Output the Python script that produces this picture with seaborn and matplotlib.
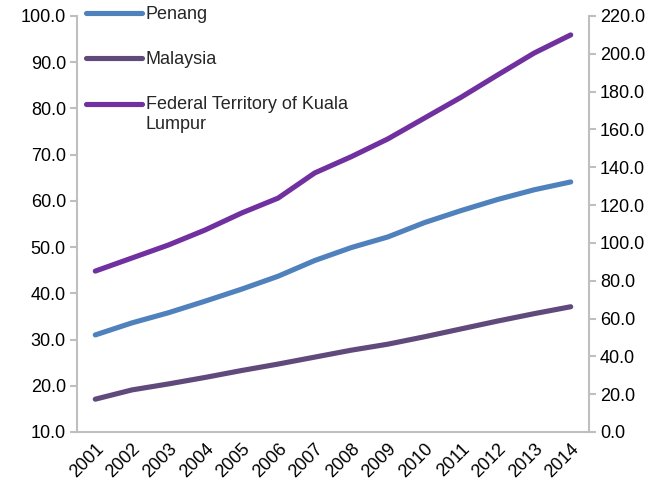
import numpy as np
import pandas as pd
import matplotlib
matplotlib.use("Agg")
import matplotlib.pyplot as plt
from matplotlib.legend_handler import HandlerLine2D
import seaborn as sns

# ── data ────────────────────────────────────────────────────────────────
years = [2001, 2002, 2003, 2004, 2005, 2006, 2007,
         2008, 2009, 2010, 2011, 2012, 2013, 2014]
penang = [31.0, 33.6, 35.8, 38.3, 40.9, 43.7, 47.1,
          49.9, 52.2, 55.3, 57.9, 60.3, 62.4, 64.1]
malaysia = [17.1, 19.1, 20.4, 21.8, 23.3, 24.7, 26.2,
            27.7, 29.0, 30.6, 32.3, 34.0, 35.6, 37.1]
kuala_lumpur = [85.1, 92.0, 98.9, 106.8, 115.8, 123.7, 137.0,
                145.6, 155.0, 166.0, 177.0, 188.8, 200.4, 210.0]

series_names = ["Penang", "Malaysia", "Federal Territory of Kuala\nLumpur"]
colors = ["#4F81BD", "#604A7B", "#7030A0"]

left_ticks = [10, 20, 30, 40, 50, 60, 70, 80, 90, 100]
right_ticks = [0, 20, 40, 60, 80, 100, 120, 140, 160, 180, 200, 220]

# ── style ───────────────────────────────────────────────────────────────
sns.set_theme(style="white")
plt.rcParams["font.family"] = ["Liberation Sans", "DejaVu Sans"]
GREY = "#BFBFBF"
FS = 13


class FirstLineHandler(HandlerLine2D):
    """Put the legend line next to the first text line (Excel style)."""

    def __init__(self, shift=0.0, **kw):
        super().__init__(**kw)
        self.shift = shift

    def create_artists(self, legend, orig_handle, xdescent, ydescent,
                       width, height, fontsize, trans):
        return super().create_artists(legend, orig_handle, xdescent,
                                      ydescent - self.shift, width, height,
                                      fontsize, trans)


fig = plt.figure(figsize=(6.68, 4.87), dpi=100)
ax = fig.add_axes([77 / 668, 1 - 432 / 487, (589 - 77) / 668, (432 - 16) / 487])
ax2 = ax.twinx()

df_left = pd.DataFrame({"year": years * 2,
                        "value": penang + malaysia,
                        "series": [series_names[0]] * len(years) + [series_names[1]] * len(years)})
df_right = pd.DataFrame({"year": years, "value": kuala_lumpur,
                         "series": [series_names[2]] * len(years)})

line_kw = dict(linewidth=3.7, solid_capstyle="round", solid_joinstyle="round")
sns.lineplot(data=df_left, x="year", y="value", hue="series",
             palette=colors[:2], ax=ax, legend=False, **line_kw)
sns.lineplot(data=df_right, x="year", y="value", hue="series",
             palette=colors[2:], ax=ax2, legend=False, **line_kw)

ax.set_xlim(years[0] - 0.5, years[-1] + 0.5)
ax.set_ylim(left_ticks[0], left_ticks[-1])
ax2.set_ylim(right_ticks[0], right_ticks[-1])
ax.set_xticks(years)
ax.set_xticklabels([str(y) for y in years], rotation=45, ha="right",
                   rotation_mode="anchor", fontsize=FS)
ax.set_yticks(left_ticks)
ax.set_yticklabels([f"{v:.1f}" for v in left_ticks], fontsize=FS)
ax2.set_yticks(right_ticks)
ax2.set_yticklabels([f"{v:.1f}" for v in right_ticks], fontsize=FS)
ax.set_xlabel("")
ax.set_ylabel("")
ax2.set_ylabel("")

for a in (ax, ax2):
    a.spines["top"].set_visible(False)
    for s in ("left", "right", "bottom"):
        a.spines[s].set_color(GREY)
        a.spines[s].set_linewidth(1.5)
    a.grid(False)
ax2.spines["left"].set_visible(False)
ax.spines["right"].set_visible(False)
ax2.spines["bottom"].set_visible(False)

ax.tick_params(axis="y", direction="out", length=5, width=1.5, color=GREY,
               pad=3, labelcolor="#000000")
ax2.tick_params(axis="y", direction="out", length=5, width=1.5, color=GREY,
                pad=3, labelcolor="#000000")
ax.tick_params(axis="x", length=0, pad=6, labelcolor="#000000")

handles = [plt.Line2D([], [], color=c, **line_kw) for c in colors]
fig.legend(handles, series_names, loc="upper left",
           bbox_to_anchor=(86 / 668, 1 - 6 / 487), frameon=False,
           borderaxespad=0, borderpad=0, handlelength=3.1, handletextpad=0.2,
           labelspacing=1.55, fontsize=FS,
           handler_map={handles[2]: FirstLineHandler(shift=15.0)})

fig.savefig("out.png", dpi=100)
